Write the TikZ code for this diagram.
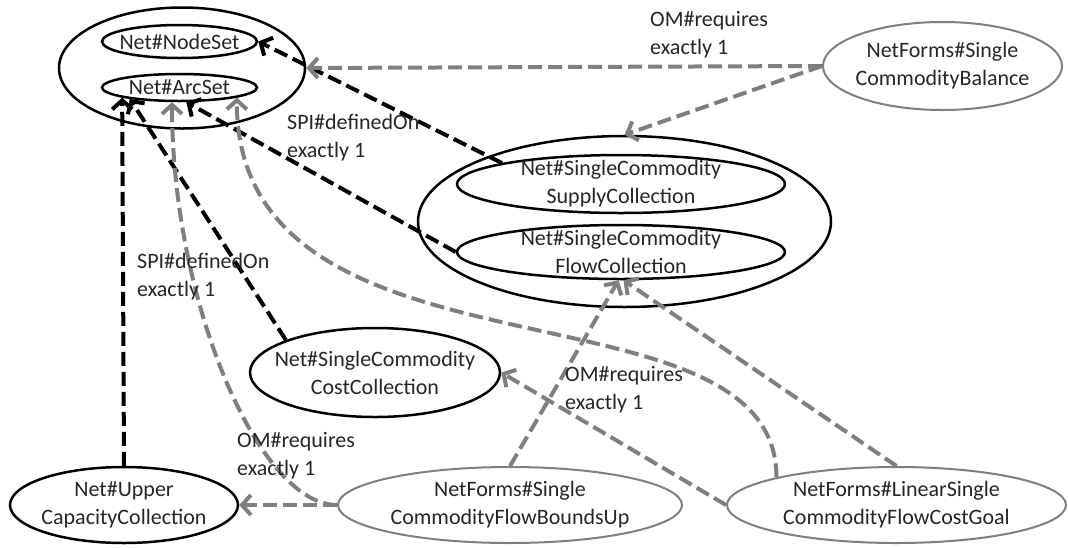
\documentclass[tikz,border=0pt]{standalone}
\usepackage{fontspec}
\setmainfont{Carlito}
\usetikzlibrary{shapes.geometric,arrows.meta}
\definecolor{ink}{RGB}{38,38,38}
\definecolor{conn}{RGB}{127,127,127}
\begin{document}
\begin{tikzpicture}[x=1pt,y=-1pt,
  font=\fontsize{22}{28}\selectfont,
  set/.style={ellipse, draw=black, line width=2.5pt, text=ink,
    inner xsep=-40pt, inner ysep=-15pt, align=center},
  form/.style={set, draw=conn, line width=2pt},
  link/.style={line width=4pt, dash pattern=on 14pt off 6pt,
    -{Straight Barb[length=9pt,width=20pt]}},
  deflink/.style={link, draw=black},
  reqlink/.style={link, draw=conn},
  tag/.style={align=left, anchor=west, inner sep=0pt, text=ink}]

\useasboundingbox (0,0) rectangle (1068,547);

% network sets
\node[set, minimum width=246pt, minimum height=121pt] (netgrp) at (182,68) {};
\node[set, minimum width=155pt, minimum height=33pt] (ns) at (179.5,41.5) {Net\#NodeSet};
\node[set, minimum width=155pt, minimum height=27pt] (as) at (179.5,87.5) {Net\#ArcSet};

% single commodity collections
\node[set, minimum width=413pt, minimum height=171pt] (supgrp) at (624.5,221.5) {};
\node[set, minimum width=328pt, minimum height=58pt] (sup) at (621,184) {Net\#SingleCommodity\\SupplyCollection};
\node[set, minimum width=328pt, minimum height=54pt] (flow) at (621,252) {Net\#SingleCommodity\\FlowCollection};
\node[set, minimum width=250pt, minimum height=89pt] (cost) at (375,372.5) {Net\#SingleCommodity\\CostCollection};
\node[set, minimum width=228pt, minimum height=76pt] (upper) at (124,505) {Net\#Upper\\CapacityCollection};

% network forms
\node[form, minimum width=239pt, minimum height=88pt] (bal) at (942.5,66) {NetForms\#Single\\CommodityBalance};
\node[form, minimum width=344pt, minimum height=76pt] (fbu) at (510,505) {NetForms\#Single\\CommodityFlowBoundsUp};
\node[form, minimum width=339pt, minimum height=76pt] (lin) at (896.5,505) {NetForms\#LinearSingle\\CommodityFlowCostGoal};

% SPI#definedOn links
\draw[deflink] (sup.170) -- (ns.east);
\draw[deflink] (flow.west) -- (as.-65);
\draw[deflink] (cost.160) -- (as.193);
\draw[deflink] (upper.north) -- (as.190);

% OM#requires links
\draw[reqlink] (bal.west) -- (netgrp.east);
\draw[reqlink] (bal.west) -- (supgrp.north);
\draw[reqlink] (fbu.west) -- (upper.east);
\draw[reqlink] (fbu.west) .. controls +(-78,0) and +(0,200) .. (as.243);
\draw[reqlink] (fbu.north) -- (flow.-95);
\draw[reqlink] (lin.north) -- (flow.-85);
\draw[reqlink] (lin.west) -- (cost.east);
\draw[reqlink] (lin.167) .. controls +(0,-207) and +(0,301) .. (as.-10);

% link labels
\node[tag] (t1) at (650,34.5) {OM\#requires\\exactly 1};
\node[tag] (t2) at (287,137.5) {SPI\#definedOn\\exactly 1};
\node[tag] (t3) at (137,277) {SPI\#definedOn\\exactly 1};
\node[tag] (t4) at (565,389.5) {OM\#requires\\exactly 1};
\node[tag] (t5) at (237,456) {OM\#requires\\exactly 1};
\end{tikzpicture}
\end{document}
